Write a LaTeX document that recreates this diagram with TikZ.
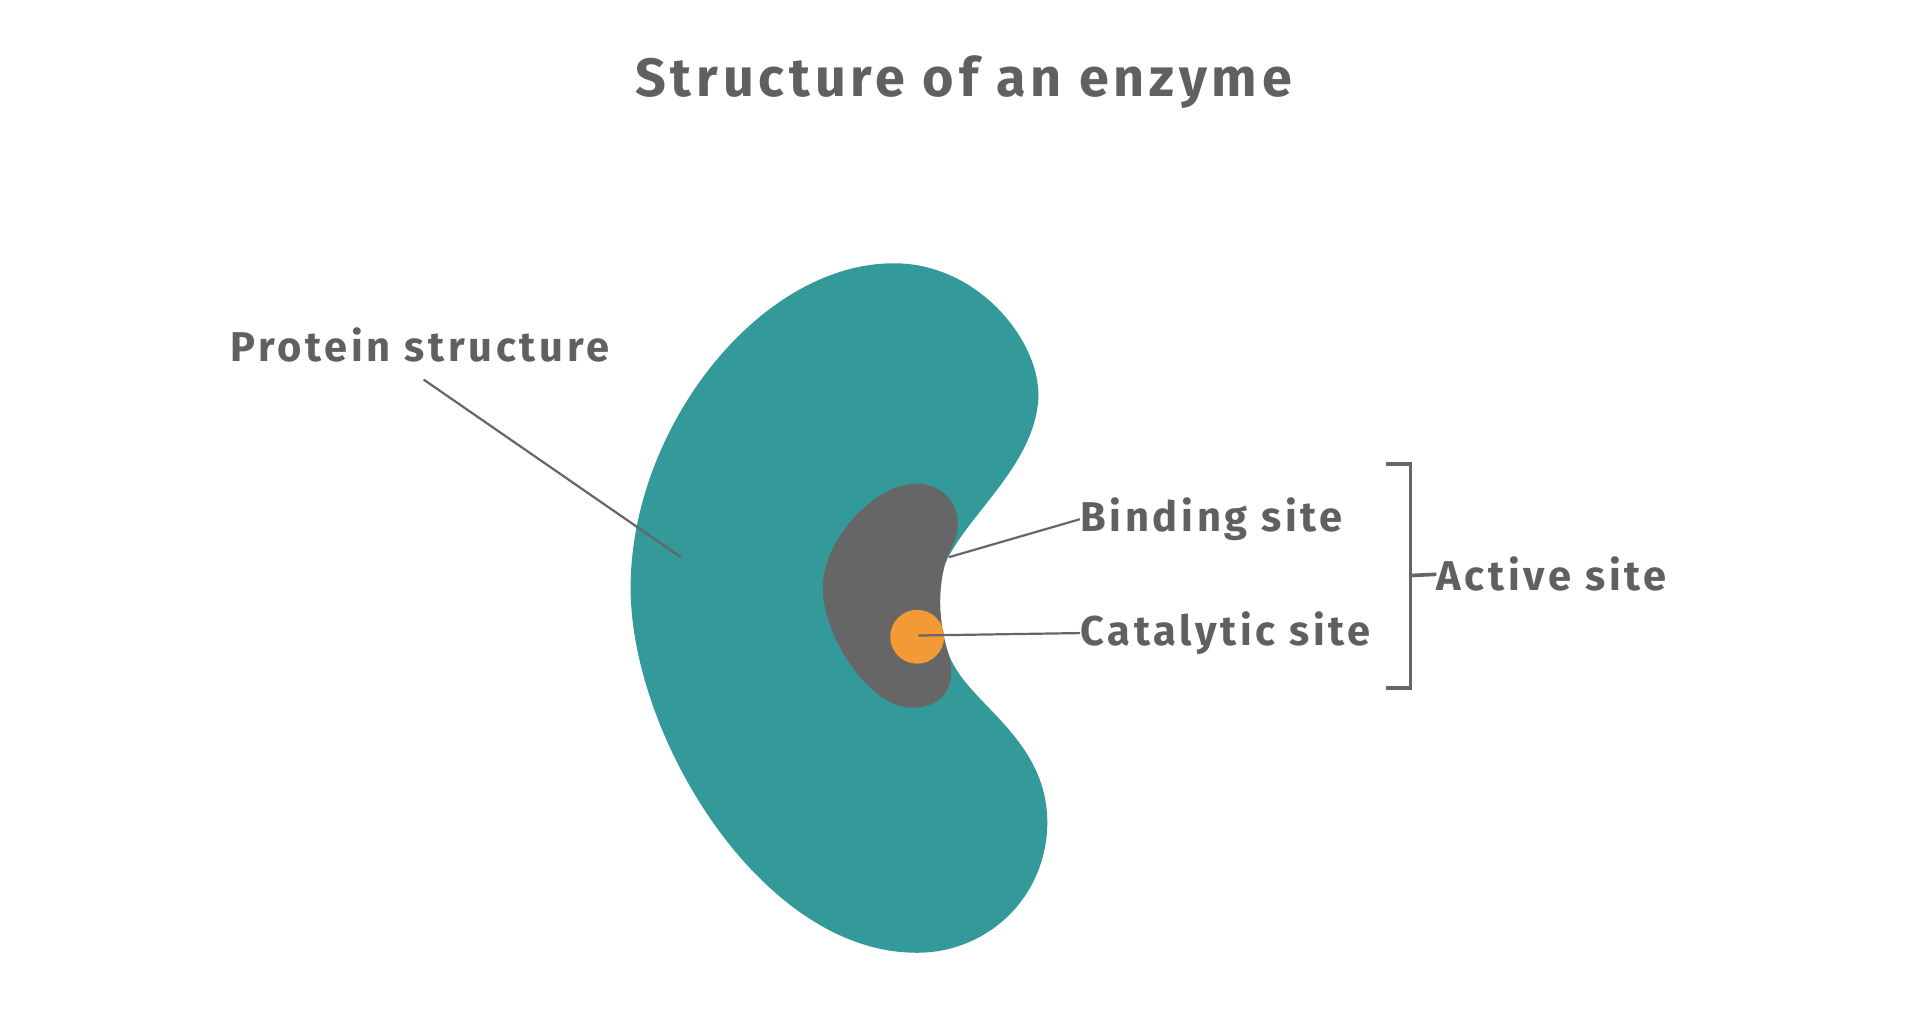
\documentclass[tikz,border=0pt]{standalone}
\usepackage{fontspec}
\setmainfont{Fira Sans}[LetterSpace=9]
\definecolor{teal1}{HTML}{339999}
\definecolor{gray1}{HTML}{666666}
\definecolor{orng}{HTML}{F39A36}
\definecolor{txt}{HTML}{606060}
\begin{document}
\begin{tikzpicture}[x=1pt,y=-1pt,
  lbl/.style={font=\fontsize{34}{40}\selectfont\bfseries, text=txt, inner sep=0pt, anchor=west},
  lead/.style={draw=gray1, line width=1.8pt}]
\useasboundingbox (0,0) rectangle (1568,831);
\node[font=\fontsize{44}{50}\selectfont\bfseries, text=txt] (title) at (787,67) {Structure of an enzyme};
\fill[teal1] (730,215) .. controls (800,215) and (850,280) .. (848,325) .. controls (845,380) and (790,420) .. (772,460) .. controls (762,485) and (765,520) .. (780,545) .. controls (800,580) and (860,610) .. (855,680) .. controls (850,740) and (800,780) .. (745,778) .. controls (620,775) and (515,600) .. (515,480) .. controls (515,350) and (620,215) .. (730,215) -- cycle;
\fill[gray1] (748,395) .. controls (775,395) and (790,420) .. (778,445) .. controls (765,470) and (765,505) .. (775,535) .. controls (782,560) and (770,578) .. (745,578) .. controls (710,578) and (672,520) .. (672,480) .. controls (672,440) and (715,395) .. (748,395) -- cycle;
\node[circle, fill=orng, minimum size=44pt, inner sep=0pt] (cat) at (749,520) {};
\coordinate (pin) at (556,455);
\coordinate (bin) at (775,455);
\coordinate (cin) at (750,519);
\node[lbl] (prot) at (188,282) {Protein structure};
\node[lbl] (bind) at (882,424) {Binding site};
\node[lbl] (catl) at (882,517) {Catalytic site};
\node[lbl] (act) at (1173,469) {Active site};
\coordinate (pstart) at (346,310);
\draw[lead] (pstart) -- (pin);
\draw[lead] (bind.west) -- (bin);
\draw[lead] (catl.west) -- (cin);
\coordinate (b1) at (1132,379);
\coordinate (b2) at (1132,562);
\coordinate (bm) at (1152,470);
\draw[draw=gray1, line width=3pt] (b1) -- (1152,379) -- (1152,562) -- (b2);
\draw[draw=gray1, line width=3pt] (bm) -- (act.west);
\end{tikzpicture}
\end{document}
